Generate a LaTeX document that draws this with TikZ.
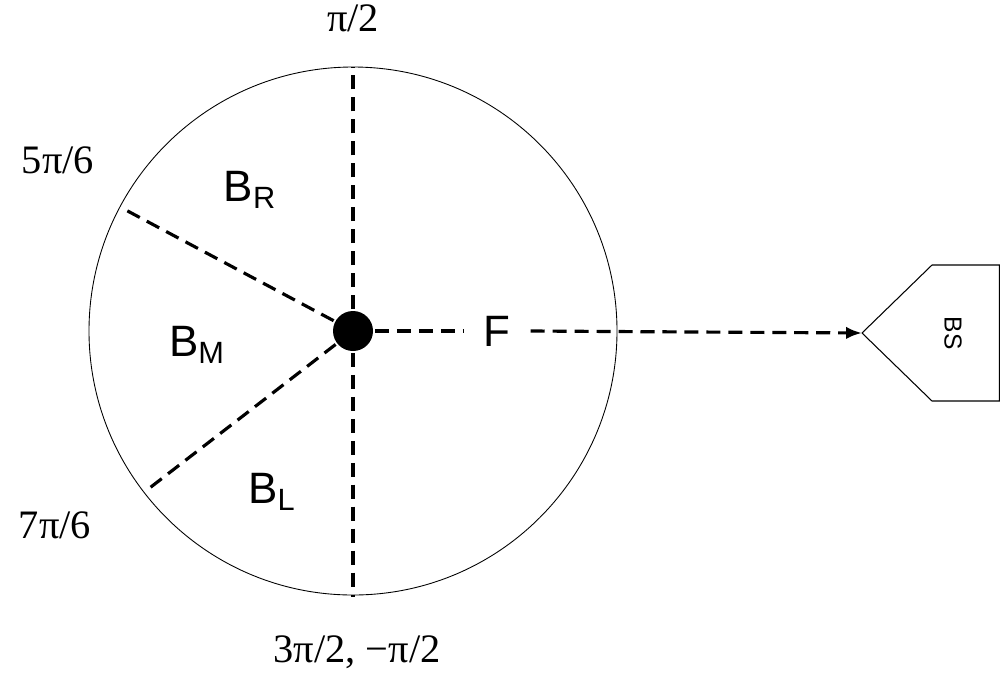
\documentclass[tikz,border=0pt]{standalone}
\usepackage{fontspec}
\setmainfont{Liberation Serif}
\setsansfont{Liberation Sans}
\usetikzlibrary{arrows.meta,positioning,calc}

\begin{document}
\begin{tikzpicture}[x=0.02cm,y=-0.02cm,>={Latex[length=9pt,width=7pt]}]
\tikzstyle{ray}=[draw,line width=1.8pt,dash pattern=on 8pt off 4.5pt]
\tikzstyle{angle}=[font=\fontsize{23}{26}\selectfont]
\tikzstyle{beam}=[font=\sffamily\fontsize{25}{28}\selectfont]
\useasboundingbox (0,0) rectangle (1000,677);

\coordinate (O) at (353,331);
\draw[line width=0.5pt] (O) circle (264);
\coordinate (T) at (353,67);
\coordinate (D) at (353,597);
\coordinate (U) at ($(O)+(-231,-123)$);
\coordinate (W) at ($(O)+(-206,159)$);

\path[ray] (O) -- (T);
\path[ray] (O) -- (D);
\path[ray] (O) -- (U);
\path[ray] (O) -- (W);

\node[beam]  (F)  at (497,331) {F};
\node[beam]  (BR) at (250,190) {B\textsubscript{R}};
\node[beam]  (BM) at (197,345) {B\textsubscript{M}};
\node[beam]  (BL) at (272,492) {B\textsubscript{L}};

% base station
\coordinate (tip) at (862,333);
\draw[line width=0.6pt] (tip) -- (932,265) -- (999.5,265) -- (999.5,401) -- (932,401) -- cycle;
\node[font=\sffamily\fontsize{14}{16}\selectfont,rotate=-90] (BS) at (953,333) {BS};

\path[ray] (O) -- ([xshift=-8pt]F.west);
\path[ray,->] ([xshift=8pt]F.east) -- (tip);
\fill (O) circle (20);

\node[angle] (a1) at (353,18)  {π/2};
\node[angle] (a2) at (58,160)  {5π/6};
\node[angle] (a3) at (55,525)  {7π/6};
\node[angle] (a4) at (357,652) {3π/2, −π/2};
\end{tikzpicture}
\end{document}
